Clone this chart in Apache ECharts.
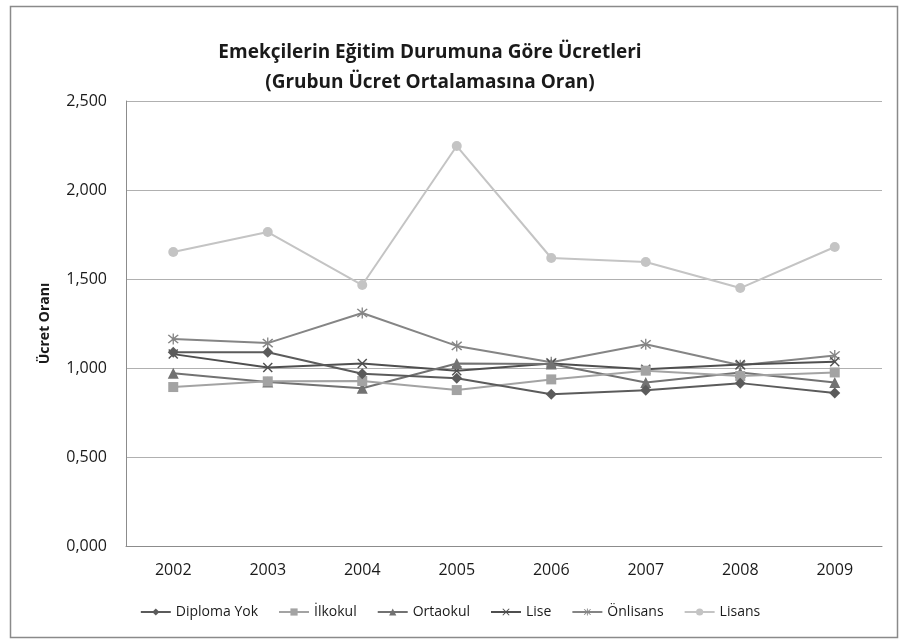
<!DOCTYPE html>
<html>
<head>
<meta charset="utf-8">
<script src="https://cdn.jsdelivr.net/npm/echarts@6/dist/echarts.min.js"></script>
<style>html,body{margin:0;padding:0;background:#fff}#c{width:900px;height:640px}</style>
</head>
<body>
<div id="c"></div>
<script>
const years = ['2002','2003','2004','2005','2006','2007','2008','2009'];
const diplomaYok = [1.088, 1.088, 0.968, 0.942, 0.852, 0.875, 0.915, 0.860];
const ilkokul    = [0.893, 0.925, 0.927, 0.876, 0.936, 0.985, 0.955, 0.975];
const ortaokul   = [0.970, 0.922, 0.886, 1.025, 1.022, 0.918, 0.975, 0.918];
const lise       = [1.078, 1.003, 1.025, 0.985, 1.025, 0.993, 1.020, 1.035];
const onlisans   = [1.163, 1.140, 1.309, 1.124, 1.032, 1.133, 1.015, 1.070];
const lisans     = [1.652, 1.764, 1.466, 2.247, 1.618, 1.596, 1.449, 1.680];
const seriesNames = ['Diploma Yok','İlkokul','Ortaokul','Lise','Önlisans','Lisans'];

const xPath = 'path://M0,1L1,0L5,4L9,0L10,1L6,5L10,9L9,10L5,6L1,10L0,9L4,5Z';
const starPath = 'path://M0,1L1,0L5,4L9,0L10,1L6,5L10,9L9,10L5,6L1,10L0,9L4,5Z M4.4,-1L5.6,-1L5.6,11L4.4,11Z';

const styles = [
  {data: diplomaYok, color: '#5b5b5b', symbol: 'diamond', size: 11},
  {data: ilkokul,    color: '#a3a3a3', symbol: 'rect',    size: 10},
  {data: ortaokul,   color: '#727272', symbol: 'triangle',size: 11},
  {data: lise,       color: '#4f4f4f', symbol: xPath,     size: 10},
  {data: onlisans,   color: '#858585', symbol: starPath,  size: 11},
  {data: lisans,     color: '#c4c4c4', symbol: 'circle',  size: 10}
];

const chart = echarts.init(document.getElementById('c'), null, {renderer: 'canvas'});
const font = '"Open Sans", Lato, sans-serif';
chart.setOption({
  animation: false,
  backgroundColor: '#fff',
  graphic: [{
    type: 'rect', left: 8, top: 4, shape: {width: 887, height: 631},
    style: {fill: 'none', stroke: '#8a8a8a', lineWidth: 1.5}
  }],
  title: {
    text: 'Emekçilerin Eğitim Durumuna Göre Ücretleri\n(Grubun Ücret Ortalamasına Oran)',
    left: 425, top: 33, textAlign: 'center',
    textStyle: {fontFamily: font, fontWeight: 'bold', fontSize: 19, color: '#1a1a1a', lineHeight: 30}
  },
  legend: {
    bottom: 16, left: 'center',
    itemWidth: 30, itemHeight: 9, itemGap: 20,
    textStyle: {fontFamily: font, fontSize: 14, color: '#1a1a1a'},
    data: seriesNames
  },
  grid: {left: 126, right: 18, top: 101, bottom: 94},
  xAxis: {
    type: 'category', data: years, boundaryGap: true,
    axisLine: {lineStyle: {color: '#8c8c8c', width: 1}},
    axisTick: {show: false},
    axisLabel: {fontFamily: font, fontSize: 16, color: '#1a1a1a', margin: 16}
  },
  yAxis: {
    type: 'value', min: 0, max: 2.5, interval: 0.5,
    name: 'Ücret Oranı', nameLocation: 'middle', nameGap: 74, nameRotate: 90,
    nameTextStyle: {fontFamily: font, fontWeight: 'bold', fontSize: 14, color: '#1a1a1a'},
    axisLine: {show: true, lineStyle: {color: '#8c8c8c', width: 1}},
    axisTick: {show: false},
    splitLine: {lineStyle: {color: '#b0b0b0', width: 1}},
    axisLabel: {fontFamily: font, fontSize: 16, color: '#1a1a1a', margin: 19,
      formatter: v => v.toFixed(3).replace('.', ',')}
  },
  series: styles.map((s, i) => ({
    name: seriesNames[i], type: 'line', data: s.data,
    symbol: s.symbol, symbolSize: s.size, showAllSymbol: true,
    lineStyle: {color: s.color, width: 2},
    itemStyle: {color: s.color},
    z: 2 + (5 - i)
  }))
});
</script>
</body>
</html>
